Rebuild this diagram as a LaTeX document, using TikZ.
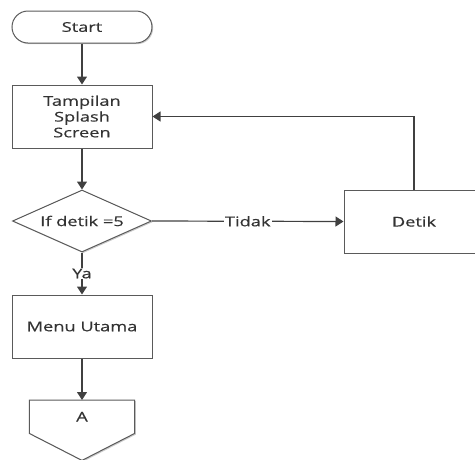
\documentclass[tikz,border=0pt]{standalone}
\usepackage{fontspec}
\setmainfont[FakeStretch=1.35,FakeBold=0.4]{Open Sans}
\usetikzlibrary{shapes.geometric,arrows.meta,shadows,calc}
\definecolor{ln}{HTML}{404040}
\definecolor{bd}{HTML}{5A5A5A}
\definecolor{tx}{HTML}{333333}
\begin{document}
\begin{tikzpicture}[x=1pt,y=-1pt,
  font=\fontsize{13.5}{15.8}\selectfont,
  box/.style={draw=bd,line width=1pt,fill=white,text=tx,minimum width=140pt,minimum height=63pt,inner sep=2pt,align=center,
    drop shadow={shadow xshift=1.2pt,shadow yshift=-1.2pt,fill=black!20,opacity=1}},
  term/.style={box,minimum height=32pt,rounded corners=16pt},
  dec/.style={draw=bd,line width=1pt,fill=white,text=tx,shape=diamond,shape aspect=2.24,minimum width=139pt,minimum height=62pt,inner sep=0pt,
    drop shadow={shadow xshift=1.2pt,shadow yshift=-1.2pt,fill=black!20,opacity=1}},
  conn/.style={draw=ln,line width=1.2pt,-{Triangle[width=10pt,length=8pt]}},
  lbl/.style={fill=white,text=tx,inner sep=1pt}
]
\useasboundingbox (0,0) rectangle (475,459);
\clip (0,0) rectangle (475,459);
\node[term] (start) at (82,27) {Start};
\node[box] (tss) at (82,116.5) {Tampilan\\Splash\\Screen};
\node[dec] (cond) at (82,221) {If detik =5};
\node[box] (detik) at (414,221.5) {Detik};
\node[box] (menu) at (82,326.5) {Menu Utama};
\node[minimum width=105pt,minimum height=33pt,inner sep=0pt,anchor=north,text=tx] (A) at (82,400) {A};
\draw[draw=bd,line width=1pt,fill=white,drop shadow={shadow xshift=1.2pt,shadow yshift=-1.2pt,fill=black!20,opacity=1}]
  (A.north west) -- (A.south west) -- ($(A.south)+(0,27)$) -- (A.south east) -- (A.north east) -- cycle;
\node[text=tx] at (A.center) {A};
\draw[conn] (start) -- (tss);
\draw[conn] (tss) -- (cond);
\draw[conn] (cond.east) -- node[lbl] {Tidak} (detik.west);
\draw[conn] (detik.north) |- (tss.east);
\draw[conn] (cond.south) -- node[lbl] {Ya} (menu.north);
\draw[conn] (menu) -- (A.north);
\end{tikzpicture}
\end{document}
